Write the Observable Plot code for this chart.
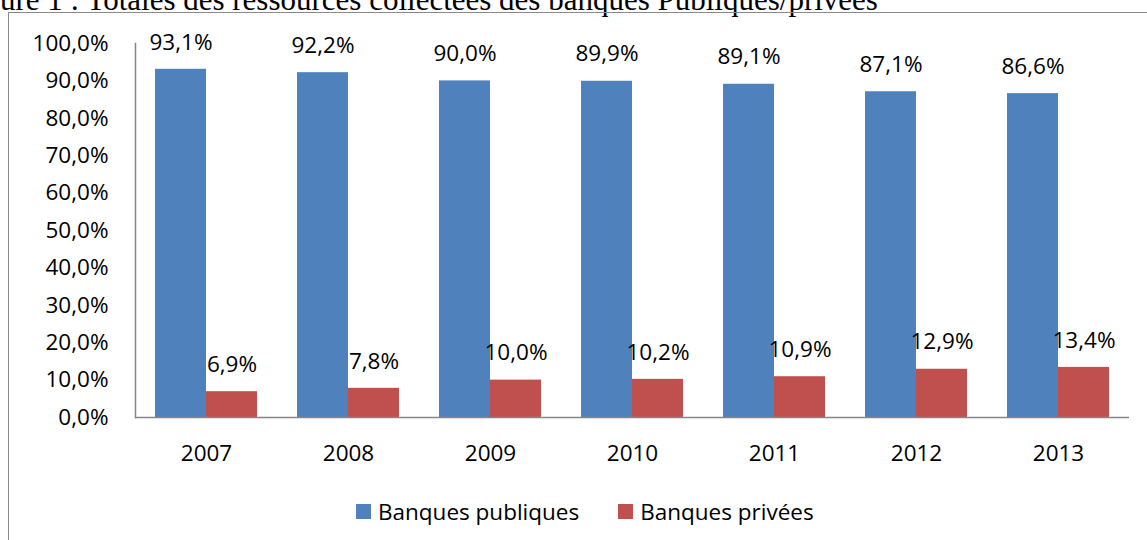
<!DOCTYPE html>
<html>
<head>
<meta charset="utf-8">
<script src="https://cdn.jsdelivr.net/npm/d3@7"></script>
<script src="https://cdn.jsdelivr.net/npm/@observablehq/plot@0.6"></script>
<style>
  html, body { margin: 0; padding: 0; background: #fff; width: 1147px; height: 540px; overflow: hidden; position: relative; }
  #title { position: absolute; left: 0; top: -16px; font-family: "Liberation Serif", "Times New Roman", serif; font-size: 31px; line-height: 1; white-space: nowrap; color: #000; }
  #frame { position: absolute; left: 8px; top: 12px; width: 1300px; height: 700px; border-left: 1px solid #8a8a8a; border-top: 1px solid #8a8a8a; }
  #chart { position: absolute; left: 0; top: 0; }
  #legend { position: absolute; top: 496px; left: 356px; display: flex; align-items: center; font-family: "Open Sans", sans-serif; font-size: 22.5px; color: #000; }
  .item { display: flex; align-items: center; }
  .sw { width: 15px; height: 15px; margin-right: 7px; }
</style>
</head>
<body>
<div id="title">ure 1 : Totales des ressources collectées des banques Publiques/privées</div>
<div id="frame"></div>
<div id="chart"></div>
<div id="legend"></div>
<script>
const years = ["2007", "2008", "2009", "2010", "2011", "2012", "2013"];
const seriesNames = ["Banques publiques", "Banques privées"];
const publiques = [93.1, 92.2, 90.0, 89.9, 89.1, 87.1, 86.6];
const privees = [6.9, 7.8, 10.0, 10.2, 10.9, 12.9, 13.4];
const yTicks = [0, 10, 20, 30, 40, 50, 60, 70, 80, 90, 100];
const colors = ["#4F81BD", "#C0504D"];

const fmt = v => v.toFixed(1).replace(".", ",") + "%";

const data = years.flatMap((yr, i) => [
  {year: yr, series: seriesNames[0], value: publiques[i]},
  {year: yr, series: seriesNames[1], value: privees[i]}
]);

const chart = Plot.plot({
  width: 1147,
  height: 470,
  marginLeft: 132,
  marginRight: 15,
  marginTop: 43,
  marginBottom: 53,
  style: {background: "transparent", fontFamily: "Open Sans", fontSize: "22.5px", color: "#000"},
  fx: {domain: years, padding: 0, label: null, axis: "bottom", tickSize: 0, tickPadding: 28},
  x: {domain: seriesNames, paddingInner: 0, paddingOuter: 0.38, axis: null},
  y: {domain: [0, 100], ticks: yTicks, tickFormat: fmt, tickSize: 0, tickPadding: 27, label: null},
  color: {domain: seriesNames, range: colors},
  marks: [
    Plot.barY(data, {fx: "year", x: "series", y: "value", fill: "series"}),
    Plot.frame({anchor: "left", facetAnchor: "left", stroke: "#868686", strokeWidth: 1.5}),
    Plot.ruleY([0], {stroke: "#868686", strokeWidth: 1.5}),
    Plot.text(data, {fx: "year", x: "series", y: "value", text: d => fmt(d.value), dy: -27, fontSize: 22.5, fill: "#000"})
  ]
});
document.getElementById("chart").appendChild(chart);

const legend = document.getElementById("legend");
seriesNames.forEach((name, i) => {
  const item = document.createElement("div");
  item.className = "item";
  if (i > 0) item.style.marginLeft = "39px";
  const sw = document.createElement("div");
  sw.className = "sw";
  sw.style.background = colors[i];
  const label = document.createElement("span");
  label.textContent = name;
  item.appendChild(sw);
  item.appendChild(label);
  legend.appendChild(item);
});
</script>
</body>
</html>
